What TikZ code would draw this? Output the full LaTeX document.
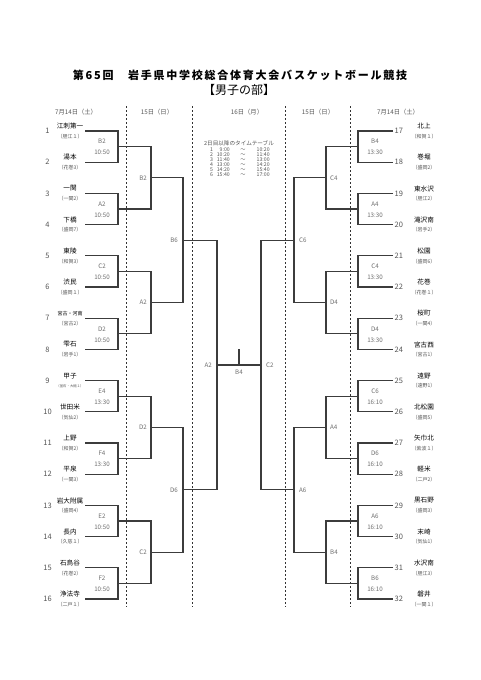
\documentclass[tikz,border=0pt]{standalone}
\usepackage{fontspec}
\newfontfamily\jp{Noto Sans CJK JP}
\usetikzlibrary{positioning, calc}
\definecolor{linegray}{RGB}{60, 60, 60}
\definecolor{sepgray}{RGB}{50, 50, 50}
\definecolor{seedgray}{RGB}{85, 85, 85}
\definecolor{labelgray}{RGB}{110, 110, 110}

\begin{document}
\begin{tikzpicture}[x=1pt, y=-1pt, font=\jp,
    bracket/.style={draw=linegray, line width=1.1pt},
    daysep/.style={draw=sepgray, line width=1pt, dash pattern=on 2.4pt off 1.6pt},
    daylabel/.style={font=\jp\fontsize{6.3}{6.3}\selectfont, text=seedgray, inner sep=0pt},
    seed/.style={font=\jp\fontsize{7.5}{7.5}\selectfont, text=seedgray, inner sep=0pt},
    school/.style={font=\jp\fontsize{6.6}{6.6}\selectfont, inner sep=0pt},
    district/.style={font=\jp\fontsize{5}{5}\selectfont, text=seedgray, inner sep=0pt},
    game/.style={font=\jp\fontsize{6.2}{6.2}\selectfont, text=labelgray, inner sep=0pt},
    timetab/.style={font=\jp\fontsize{5.2}{5.2}\selectfont, text=seedgray, inner sep=0pt}]
        \fill[white] (0,0) rectangle (481,680);
        \useasboundingbox (0,0) rectangle (481,680);

        % Título
        \node[font=\jp\bfseries\fontsize{11}{11}\selectfont\addfontfeature{LetterSpace=16}] (title) at (240,75) {第65回　岩手県中学校総合体育大会バスケットボール競技};
        \node[font=\jp\fontsize{12}{12}\selectfont] (division) at (239,90) {【男子の部】};

        % Datas e separadores
        \node[daylabel] (dayL1) at (76,112) {7月14日（土）};
        \node[daylabel] (dayL2) at (157,112) {15日（日）};
        \node[daylabel] (dayC) at (247,112) {16日（月）};
        \node[daylabel] (dayR2) at (318,112) {15日（日）};
        \node[daylabel] (dayR1) at (398,112) {7月14日（土）};
        \foreach \x in {126,192,285,350}
            \draw[daysep] (\x,106) -- (\x,607);

        % Equipes à esquerda
        \foreach \name/\area [count=\i] in {江刺第一/（胆江１）, 湯本/（花巻3）, 一関/（一関2）, 下橋/（盛岡7）,
            東陵/（和賀3）, 渋民/（盛岡１）, {\fontsize{5}{5}\selectfont 宮古・河南}/（宮古2）, 雫石/（岩手1）,
            甲子/{\fontsize{3.4}{3.4}\selectfont （釜石・大槌１）}, 世田米/（気仙2）, 上野/（和賀2）, 平泉/（一関3）,
            岩大附属/（盛岡4）, 長内/（久慈１）, 石鳥谷/（花巻2）, 浄法寺/（二戸１）} {
            \pgfmathsetmacro\ty{131+(\i-1)*31.2}
            \coordinate (L\i) at (85,\ty);
            \node[seed] (seedL\i) at (47.5,\ty) {\i};
            \node[school] (schoolL\i) at (70,\ty-4.8) {\name};
            \node[district] (areaL\i) at (70,\ty+5.4) {\area};
        }

        % Equipes à direita
        \foreach \name/\area [count=\i] in {北上/（和賀１）, 巻堀/（盛岡2）, 東水沢/（胆江2）, 滝沢南/（岩手2）,
            松園/（盛岡6）, 花巻/（花巻１）, 桜町/（一関4）, 宮古西/（宮古1）,
            遠野/（遠野1）, 北松園/（盛岡5）, 矢巾北/（紫波１）, 軽米/（二戸2）,
            黒石野/（盛岡3）, 末崎/（気仙1）, 水沢南/（胆江3）, 磐井/（一関１）} {
            \pgfmathsetmacro\ty{131+(\i-1)*31.2}
            \pgfmathtruncatemacro\sd{\i+16}
            \coordinate (R\i) at (393,\ty);
            \node[seed, anchor=west] (seedR\i) at (394.5,\ty) {\sd};
            \node[school] (schoolR\i) at (424,\ty-4.8) {\name};
            \node[district] (areaR\i) at (424,\ty+5.4) {\area};
        }

        % Primeira rodada
        \foreach \code/\time [count=\k] in {B2/10:50, A2/10:50, C2/10:50, D2/10:50, E4/13:30, F4/13:30, E2/10:50, F2/10:50} {
            \pgfmathtruncatemacro\a{2*\k-1}
            \pgfmathtruncatemacro\b{2*\k}
            \pgfmathsetmacro\my{131+(2*\k-1.5)*31.2}
            \coordinate (LA\k) at (118,\my);
            \draw[bracket] (L\a) -| (LA\k) |- (L\b);
            \node[game] (gameLA\k) at (102,\my-5) {\code};
            \node[game] (timeLA\k) at (102,\my+6) {\time};
        }
        \foreach \code/\time [count=\k] in {B4/13:30, A4/13:30, C4/13:30, D4/13:30, C6/16:10, D6/16:10, A6/16:10, B6/16:10} {
            \pgfmathtruncatemacro\a{2*\k-1}
            \pgfmathtruncatemacro\b{2*\k}
            \pgfmathsetmacro\my{131+(2*\k-1.5)*31.2}
            \coordinate (RA\k) at (358,\my);
            \draw[bracket] (R\a) -| (RA\k) |- (R\b);
            \node[game] (gameRA\k) at (375,\my-5) {\code};
            \node[game] (timeRA\k) at (375,\my+6) {\time};
        }

        % Segunda rodada
        \foreach \lcode/\rcode [count=\k] in {B2/C4, A2/D4, D2/A4, C2/B4} {
            \pgfmathtruncatemacro\a{2*\k-1}
            \pgfmathtruncatemacro\b{2*\k}
            \pgfmathsetmacro\my{131+(4*\k-2.5)*31.2}
            \coordinate (LB\k) at (151,\my);
            \coordinate (RB\k) at (326,\my);
            \draw[bracket] (LA\a) -| (LB\k) |- (LA\b);
            \draw[bracket] (RA\a) -| (RB\k) |- (RA\b);
            \node[game, anchor=east] (gameLB\k) at ([xshift=-4pt]LB\k) {\lcode};
            \node[game, anchor=west] (gameRB\k) at ([xshift=4pt]RB\k) {\rcode};
        }

        % Quartas
        \foreach \lcode/\rcode [count=\k] in {B6/C6, D6/A6} {
            \pgfmathtruncatemacro\a{2*\k-1}
            \pgfmathtruncatemacro\b{2*\k}
            \pgfmathsetmacro\my{131+(8*\k-4.5)*31.2}
            \coordinate (LC\k) at (183,\my);
            \coordinate (RC\k) at (294,\my);
            \draw[bracket] (LB\a) -| (LC\k) |- (LB\b);
            \draw[bracket] (RB\a) -| (RC\k) |- (RB\b);
            \node[game, anchor=east] (gameLC\k) at ([xshift=-5pt]LC\k) {\lcode};
            \node[game, anchor=west] (gameRC\k) at ([xshift=5pt]RC\k) {\rcode};
        }

        % Semifinais e final
        \coordinate (LD) at (217,365);
        \coordinate (RD) at (261,365);
        \draw[bracket] (LC1) -| (LD) |- (LC2);
        \draw[bracket] (RC1) -| (RD) |- (RC2);
        \node[game, anchor=east] (gameLD) at ([xshift=-5pt]LD) {A2};
        \node[game, anchor=west] (gameRD) at ([xshift=5pt]RD) {C2};
        \draw[bracket] (LD) -- (RD);
        \coordinate (final) at ($(LD)!0.5!(RD)$);
        \coordinate (finaltop) at ([yshift=16pt]final);
        \draw[bracket] (final) -- (finaltop);
        \node[game, below=5pt of final] (gamefinal) {B4};

        % Tabela de horários
        \node[timetab, font=\jp\fontsize{5.6}{5.6}\selectfont] (tthead) at (239,143) {2日目以降のタイムテーブル};
        \foreach \s/\e [count=\r] in {9:00/10:20, 10:20/11:40, 11:40/13:00, 13:00/14:20, 14:20/15:40, 15:40/17:00} {
            \pgfmathsetmacro\ry{150+(\r-1)*5}
            \node[timetab] (ttnum\r) at (211.5,\ry) {\r};
            \node[timetab, anchor=east] (ttfrom\r) at (230,\ry) {\s};
            \node[timetab] (tttilde\r) at (243,\ry) {〜};
            \node[timetab, anchor=west] (ttto\r) at (256.5,\ry) {\e};
        }
\end{tikzpicture}
\end{document}
